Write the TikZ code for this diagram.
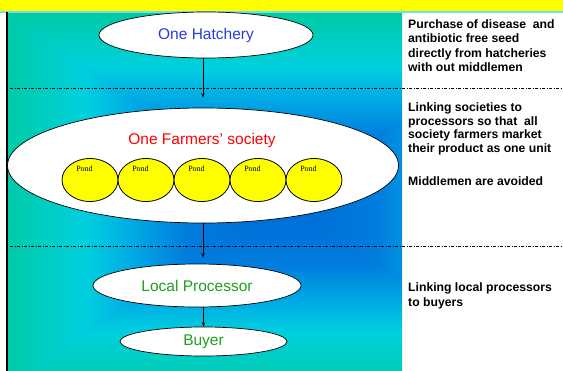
\documentclass[tikz,border=0pt]{standalone}
\usepackage{fontspec}
\setmainfont{Liberation Sans}
\newfontfamily\pondfont{Liberation Serif}
\usetikzlibrary{shapes.geometric, arrows.meta, positioning}
\definecolor{bandyellow}{RGB}{255,255,0}
\definecolor{bglight}{RGB}{110,228,228}
\definecolor{bgteal}{RGB}{0,202,162}
\definecolor{bgcyan}{RGB}{0,208,222}
\definecolor{bgmid}{RGB}{0,172,228}
\definecolor{bgblueb}{RGB}{0,125,222}
\definecolor{bgblue}{RGB}{0,105,215}
\definecolor{hatchblue}{RGB}{40,60,220}
\definecolor{procgreen}{RGB}{30,160,30}
% centre (25bp) to rim (75bp) of the slide gradient
\pgfdeclareverticalshading{seaout}{100bp}{color(0bp)=(bgblue); color(25bp)=(bgblue); color(42bp)=(bgblueb); color(52bp)=(bgmid); color(60bp)=(bgcyan); color(75bp)=(bgteal); color(100bp)=(bgteal)}

\begin{document}
\begin{tikzpicture}[
			x=1pt, y=-1pt,
			stage/.style={ellipse, draw, fill=white, line width=0.7pt, inner sep=0pt, font=\fontsize{15.5}{18}\selectfont},
			pond/.style={ellipse, draw, fill=bandyellow, line width=0.8pt, minimum width=56pt, minimum height=43pt, inner sep=0pt},
			pondtxt/.style={anchor=base, inner sep=0pt, font=\pondfont\fontsize{8}{9}\selectfont},
			note/.style={anchor=base west, align=left, inner sep=0pt, font=\bfseries\fontsize{12.2}{14.5}\selectfont},
			flow/.style={-{Stealth[length=4.5pt,width=3.5pt]}, line width=0.6pt},
			divider/.style={line width=0.6pt, dash pattern=on 3pt off 1.5pt on 1pt off 1.5pt}
			]
			\useasboundingbox (0,0) rectangle (563,370);
			
			% Background
			\fill[bandyellow] (0,0) rectangle (563,11);
			\draw[bglight, line width=2pt] (0,12) -- (563,12);
			\begin{scope}
				\clip (8,13) rectangle (402,373);
				\fill[bgcyan] (8,13) rectangle (402,373);
				\coordinate (mid) at (282,200);
				\shade[shading=seaout] (mid) -- (0,10) -- (563,10) -- cycle;
				\shade[shading=seaout, shading angle=180] (mid) -- (0,390) -- (563,390) -- cycle;
				\shade[shading=seaout, shading angle=90] (mid) -- (0,10) -- (0,390) -- cycle;
				\shade[shading=seaout, shading angle=270] (mid) -- (563,10) -- (563,390) -- cycle;
			\end{scope}
			\fill (5.5,12) rectangle (8.3,373);
			\draw[divider] (10,88) -- (563,88);
			\draw[divider] (10,246) -- (563,246);
			
			% Chain
			\node[stage, minimum width=214pt, minimum height=46pt, text=hatchblue] (hatch) at (206,35) {One Hatchery};
			\node[stage, minimum width=391pt, minimum height=115pt] (society) at (203,165.5) {};
			\node[anchor=base, inner sep=0pt, text=red, font=\fontsize{15.5}{18}\selectfont] (societylbl) at (202,144) {One Farmers’ society};
			\foreach \i in {1,...,5} {
				\node[pond] (pond\i) at ({34+56*\i},180) {};
				\node[pondtxt] (pondlbl\i) at ({28.5+56*\i},171.5) {Pond};
			}
			\node[stage, minimum width=208pt, minimum height=43pt, text=procgreen] (proc) at (197,285.5) {Local Processor};
			\node[stage, minimum width=167pt, minimum height=29pt, text=procgreen] (buyer) at (203.5,341.5) {Buyer};
			
			% Arrows
			\draw[flow, shorten >=10pt] (hatch.south -| society) -- (society.north);
			\draw[flow, shorten >=6pt] (society.south) -- (society.south |- proc.north);
			\draw[flow] (proc.south -| buyer) -- (buyer.north);
			
			% Notes (base anchor sits on the last line)
			\node[note] (seednote) at (408,71.5) {Purchase of disease\ \ and\\antibiotic free seed\\directly from hatcheries\\with out middlemen};
			\node[note, font=\bfseries\fontsize{12.2}{13.7}\selectfont] (linknote) at (408,152.5) {Linking societies to\\processors so that\ \ all\\society farmers market\\their product as one unit};
			\node[note] (avoidnote) at (408,185) {Middlemen are avoided};
			\node[note] (buyernote) at (408,306) {Linking local processors\\to buyers};
		\end{tikzpicture}
\end{document}
